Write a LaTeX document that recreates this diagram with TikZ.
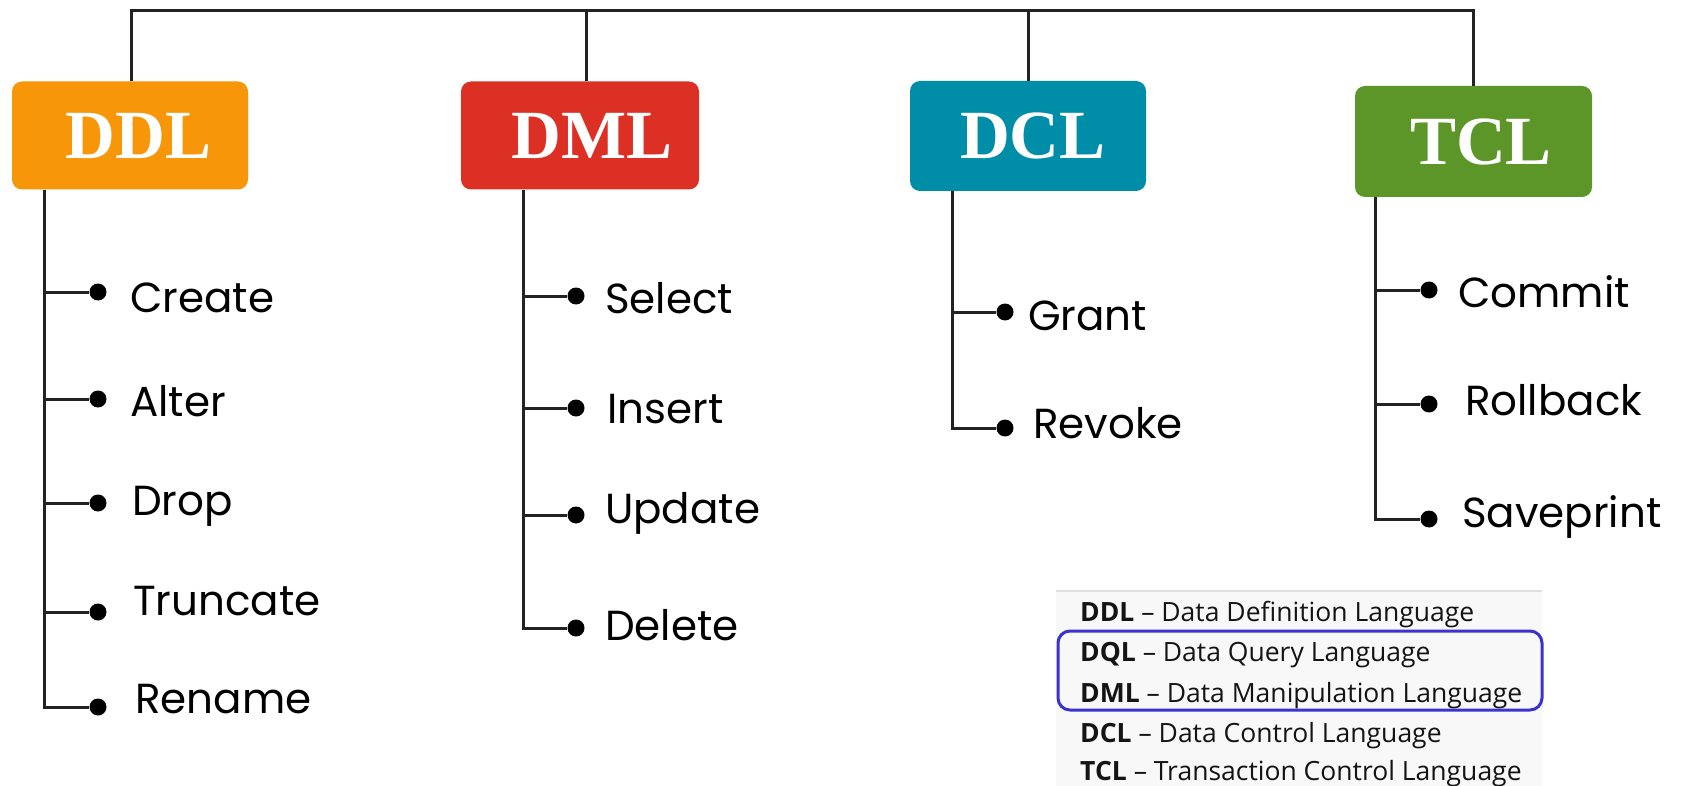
\documentclass[tikz,border=0pt]{standalone}
\usepackage{fontspec}
\setmainfont{Liberation Serif}
\newfontfamily\itemfont{Poppins}
\newfontfamily\legfont{Open Sans}
\definecolor{ddlc}{RGB}{247,150,8}
\definecolor{dmlc}{RGB}{220,48,37}
\definecolor{dclc}{RGB}{0,141,168}
\definecolor{tclc}{RGB}{92,150,40}
\definecolor{linec}{RGB}{35,35,35}
\definecolor{legbg}{RGB}{248,248,248}
\definecolor{legline}{RGB}{222,222,222}
\definecolor{legblue}{RGB}{58,52,204}
\definecolor{legtext}{RGB}{20,20,20}
\tikzset{
  catbox/.style={rectangle, rounded corners=10, inner sep=0, text=white,
    font=\fontsize{69}{71}\selectfont\bfseries},
  conn/.style={draw=linec, line width=3},
  dotnode/.style={circle, fill=black, inner sep=0, minimum size=17},
  itemtxt/.style={anchor=base west, inner sep=0, text=black,
    font=\itemfont\fontsize{42}{45}\selectfont},
  legtxt/.style={anchor=base west, inner sep=0, text=legtext,
    font=\legfont\fontsize{26.5}{29}\selectfont},
}
\begin{document}
\begin{tikzpicture}[x=1pt,y=-1pt]
\useasboundingbox (0,0) rectangle (1683,786);
\fill[white] (0,0) rectangle (1683,786);

% category boxes
\node[catbox, fill=ddlc, minimum width=236, minimum height=108] (ddl) at (130,135.5) {\hspace*{17pt}DDL};
\node[catbox, fill=dmlc, minimum width=238, minimum height=108] (dml) at (580,135.5) {\hspace*{24pt}DML};
\node[catbox, fill=dclc, minimum width=236, minimum height=110] (dcl) at (1028,136) {\hspace*{10pt}DCL};
\node[catbox, fill=tclc, minimum width=237, minimum height=111] (tcl) at (1473.5,141.5) {\hspace*{15pt}TCL};

% top bar
\coordinate (topbar) at (0,11);
\draw[conn] ([xshift=1]ddl.north) -- ([xshift=1]ddl.north |- topbar) -- (tcl.north |- topbar) -- (tcl.north);
\draw[conn] ([xshift=6]dml.north) -- ([xshift=6]dml.north |- topbar);
\draw[conn] (dcl.north) -- (dcl.north |- topbar);

% trunk x positions
\coordinate (ddlx) at (44,0);
\coordinate (dmlx) at (523,0);
\coordinate (dclx) at (952,0);
\coordinate (tclx) at (1375,0);

% DDL items
\node[dotnode] (dCreate) at (98,292) {};
\node[dotnode] (dAlter) at (98,399) {};
\node[dotnode] (dDrop) at (98,503) {};
\node[dotnode] (dTruncate) at (98,612) {};
\node[dotnode] (dRename) at (98,707) {};
\node[itemtxt] (tCreate) at (130,312) {Create};
\node[itemtxt] (tAlter) at (130,416) {Alter};
\node[itemtxt] (tDrop) at (132,515) {Drop};
\node[itemtxt] (tTruncate) at (133,615) {Truncate};
\node[itemtxt] (tRename) at (135,713) {Rename};
\draw[conn] (ddl.south -| ddlx) |- (dRename.west);
\draw[conn] (ddlx |- dCreate) -- (dCreate.west);
\draw[conn] (ddlx |- dAlter) -- (dAlter.west);
\draw[conn] (ddlx |- dDrop) -- (dDrop.west);
\draw[conn] (ddlx |- dTruncate) -- (dTruncate.west);

% DML items
\node[dotnode] (dSelect) at (576,296) {};
\node[dotnode] (dInsert) at (576,408) {};
\node[dotnode] (dUpdate) at (576,515) {};
\node[dotnode] (dDelete) at (576,628) {};
\node[itemtxt] (tSelect) at (605,313) {Select};
\node[itemtxt] (tInsert) at (607,423) {Insert};
\node[itemtxt] (tUpdate) at (605,523) {Update};
\node[itemtxt] (tDelete) at (605,640) {Delete};
\draw[conn] (dml.south -| dmlx) |- (dDelete.west);
\draw[conn] (dmlx |- dSelect) -- (dSelect.west);
\draw[conn] (dmlx |- dInsert) -- (dInsert.west);
\draw[conn] (dmlx |- dUpdate) -- (dUpdate.west);

% DCL items
\node[dotnode] (dGrant) at (1005,312) {};
\node[dotnode] (dRevoke) at (1005,428) {};
\node[itemtxt] (tGrant) at (1028,330) {Grant};
\node[itemtxt] (tRevoke) at (1033,438) {Revoke};
\draw[conn] (dcl.south -| dclx) |- (dRevoke.west);
\draw[conn] (dclx |- dGrant) -- (dGrant.west);

% TCL items
\node[dotnode] (dCommit) at (1429,290) {};
\node[dotnode] (dRollback) at (1429,404) {};
\node[dotnode] (dSaveprint) at (1429,519) {};
\node[itemtxt] (tCommit) at (1458,307) {Commit};
\node[itemtxt] (tRollback) at (1465,415) {Rollback};
\node[itemtxt] (tSaveprint) at (1462,527) {Saveprint};
\draw[conn] (tcl.south -| tclx) |- (dSaveprint.west);
\draw[conn] (tclx |- dCommit) -- (dCommit.west);
\draw[conn] (tclx |- dRollback) -- (dRollback.west);

% legend panel
\fill[legbg] (1056,591) rectangle (1542,786);
\draw[legline, line width=2] (1056,591) -- (1542,591);
\node[legtxt] (l1) at (1080,621) {\textbf{DDL} – Data Definition Language};
\node[legtxt] (l2) at (1080,661) {\textbf{DQL} – Data Query Language};
\node[legtxt] (l3) at (1080,702) {\textbf{DML} – Data Manipulation Language};
\node[legtxt] (l4) at (1080,742) {\textbf{DCL} – Data Control Language};
\node[legtxt] (l5) at (1080,780) {\textbf{TCL} – Transaction Control Language};
\draw[legblue, line width=3, rounded corners=12] (1058,631) rectangle (1542,710);
\end{tikzpicture}
\end{document}
